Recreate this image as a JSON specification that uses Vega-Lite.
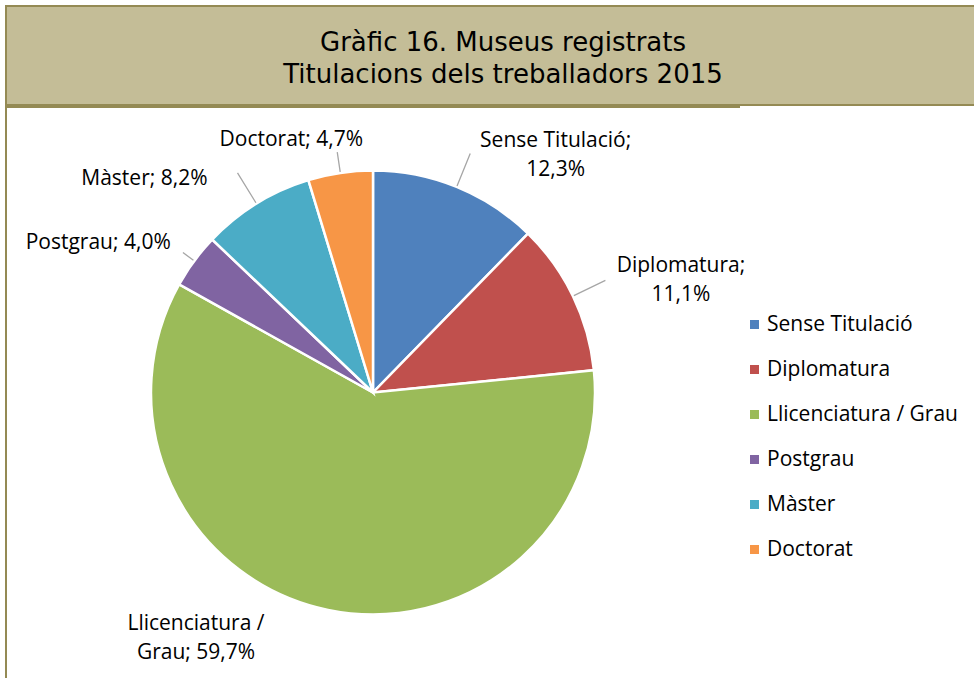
{
  "$schema": "https://vega.github.io/schema/vega-lite/v6.json",
  "background": "white",
  "padding": {"left": 5, "top": 5, "right": 0, "bottom": 0},
  "spacing": 0,
  "config": {
    "view": {"stroke": null},
    "concat": {"spacing": 0}
  },
  "vconcat": [
    {
      "width": 994,
      "height": 99,
      "view": {"fill": "#C4BD97", "stroke": "#948A54", "strokeWidth": 2},
      "data": {"values": [{"t": "Gràfic 16. Museus registrats\nTitulacions dels treballadors 2015"}]},
      "mark": {"type": "text", "lineBreak": "\n", "font": "DejaVu Sans", "fontSize": 26, "lineHeight": 32, "dy": -13, "align": "center", "baseline": "middle", "color": "#000000"},
      "encoding": {"text": {"field": "t"}}
    },
    {
      "width": 734,
      "height": 571,
      "view": {"stroke": "#948A54", "strokeWidth": 2, "strokeDash": [734, 1305]},
      "data": {"values": [
        {"cat": "Sense Titulació", "value": 12.3, "label": "Sense Titulació;\n12,3%"},
        {"cat": "Diplomatura", "value": 11.1, "label": "Diplomatura;\n11,1%"},
        {"cat": "Llicenciatura / Grau", "value": 59.7, "label": "Llicenciatura /\nGrau; 59,7%"},
        {"cat": "Postgrau", "value": 4.0, "label": "Postgrau; 4,0%"},
        {"cat": "Màster", "value": 8.2, "label": "Màster; 8,2%"},
        {"cat": "Doctorat", "value": 4.7, "label": "Doctorat; 4,7%"}
      ]},
      "transform": [{"window": [{"op": "row_number", "as": "i"}]}],
      "layer": [
        {
          "mark": {"type": "arc", "outerRadius": 222, "stroke": "white", "strokeWidth": 2.5},
          "encoding": {
            "theta": {"field": "value", "type": "quantitative", "stack": true},
            "order": {"field": "i", "type": "quantitative"},
            "color": {
              "field": "cat", "type": "nominal",
              "scale": {
                "domain": ["Sense Titulació", "Diplomatura", "Llicenciatura / Grau", "Postgrau", "Màster", "Doctorat"],
                "range": ["#4F81BD", "#C0504D", "#9BBB59", "#8064A2", "#4BACC6", "#F79646"]
              },
              "legend": {
                "title": null, "orient": "none", "legendX": 738, "legendY": 308,
                "symbolType": "square", "symbolSize": 81, "symbolStrokeWidth": 0,
                "labelFont": "Open Sans", "labelFontSize": 21, "labelColor": "#000000",
                "labelOffset": 2, "rowPadding": 23, "padding": 0, "labelLimit": 300
              }
            }
          }
        },
        {
          "mark": {"type": "arc", "innerRadius": 223, "outerRadius": 258, "padAngle": 3.2, "filled": false, "stroke": "#A6A6A6", "strokeWidth": 1.3},
          "encoding": {
            "theta": {"field": "value", "type": "quantitative", "stack": true},
            "order": {"field": "i", "type": "quantitative"},
            "detail": {"field": "cat"},
            "strokeOpacity": {"condition": {"test": "indexof(['Sense Titulació','Diplomatura','Màster'], datum.cat) >= 0", "value": 1}, "value": 0}
          }
        },
        {
          "mark": {"type": "arc", "innerRadius": 223, "outerRadius": 243, "padAngle": 3.2, "filled": false, "stroke": "#A6A6A6", "strokeWidth": 1.3},
          "encoding": {
            "theta": {"field": "value", "type": "quantitative", "stack": true},
            "order": {"field": "i", "type": "quantitative"},
            "detail": {"field": "cat"},
            "strokeOpacity": {"condition": {"test": "datum.cat === 'Doctorat'", "value": 1}, "value": 0}
          }
        },
        {
          "mark": {"type": "arc", "innerRadius": 223, "outerRadius": 236, "padAngle": 3.2, "filled": false, "stroke": "#A6A6A6", "strokeWidth": 1.3},
          "encoding": {
            "theta": {"field": "value", "type": "quantitative", "stack": true},
            "order": {"field": "i", "type": "quantitative"},
            "detail": {"field": "cat"},
            "strokeOpacity": {"condition": {"test": "datum.cat === 'Postgrau'", "value": 1}, "value": 0}
          }
        },
        {
          "mark": {"type": "text", "radius": 222, "dx": 99, "dy": -46, "lineBreak": "\n", "lineHeight": 29, "font": "Open Sans", "fontSize": 21, "align": "center", "baseline": "middle", "color": "#000000"},
          "encoding": {
            "theta": {"field": "value", "type": "quantitative", "stack": true},
            "order": {"field": "i", "type": "quantitative"},
            "detail": {"field": "cat"},
            "text": {"condition": {"test": "datum.cat === 'Sense Titulació'", "field": "label"}, "value": ""}
          }
        },
        {
          "mark": {"type": "text", "radius": 222, "dx": 108, "dy": -30, "lineBreak": "\n", "lineHeight": 29, "font": "Open Sans", "fontSize": 21, "align": "center", "baseline": "middle", "color": "#000000"},
          "encoding": {
            "theta": {"field": "value", "type": "quantitative", "stack": true},
            "order": {"field": "i", "type": "quantitative"},
            "detail": {"field": "cat"},
            "text": {"condition": {"test": "datum.cat === 'Diplomatura'", "field": "label"}, "value": ""}
          }
        },
        {
          "mark": {"type": "text", "radius": 222, "dx": -132, "dy": 14, "lineBreak": "\n", "lineHeight": 29, "font": "Open Sans", "fontSize": 21, "align": "center", "baseline": "middle", "color": "#000000"},
          "encoding": {
            "theta": {"field": "value", "type": "quantitative", "stack": true},
            "order": {"field": "i", "type": "quantitative"},
            "detail": {"field": "cat"},
            "text": {"condition": {"test": "datum.cat === 'Llicenciatura / Grau'", "field": "label"}, "value": ""}
          }
        },
        {
          "mark": {"type": "text", "radius": 222, "dx": -96, "dy": -18, "lineBreak": "\n", "lineHeight": 29, "font": "Open Sans", "fontSize": 21, "align": "center", "baseline": "middle", "color": "#000000"},
          "encoding": {
            "theta": {"field": "value", "type": "quantitative", "stack": true},
            "order": {"field": "i", "type": "quantitative"},
            "detail": {"field": "cat"},
            "text": {"condition": {"test": "datum.cat === 'Postgrau'", "field": "label"}, "value": ""}
          }
        },
        {
          "mark": {"type": "text", "radius": 222, "dx": -112, "dy": -25, "lineBreak": "\n", "lineHeight": 29, "font": "Open Sans", "fontSize": 21, "align": "center", "baseline": "middle", "color": "#000000"},
          "encoding": {
            "theta": {"field": "value", "type": "quantitative", "stack": true},
            "order": {"field": "i", "type": "quantitative"},
            "detail": {"field": "cat"},
            "text": {"condition": {"test": "datum.cat === 'Màster'", "field": "label"}, "value": ""}
          }
        },
        {
          "mark": {"type": "text", "radius": 222, "dx": -49, "dy": -33, "lineBreak": "\n", "lineHeight": 29, "font": "Open Sans", "fontSize": 21, "align": "center", "baseline": "middle", "color": "#000000"},
          "encoding": {
            "theta": {"field": "value", "type": "quantitative", "stack": true},
            "order": {"field": "i", "type": "quantitative"},
            "detail": {"field": "cat"},
            "text": {"condition": {"test": "datum.cat === 'Doctorat'", "field": "label"}, "value": ""}
          }
        }
      ]
    }
  ]
}
